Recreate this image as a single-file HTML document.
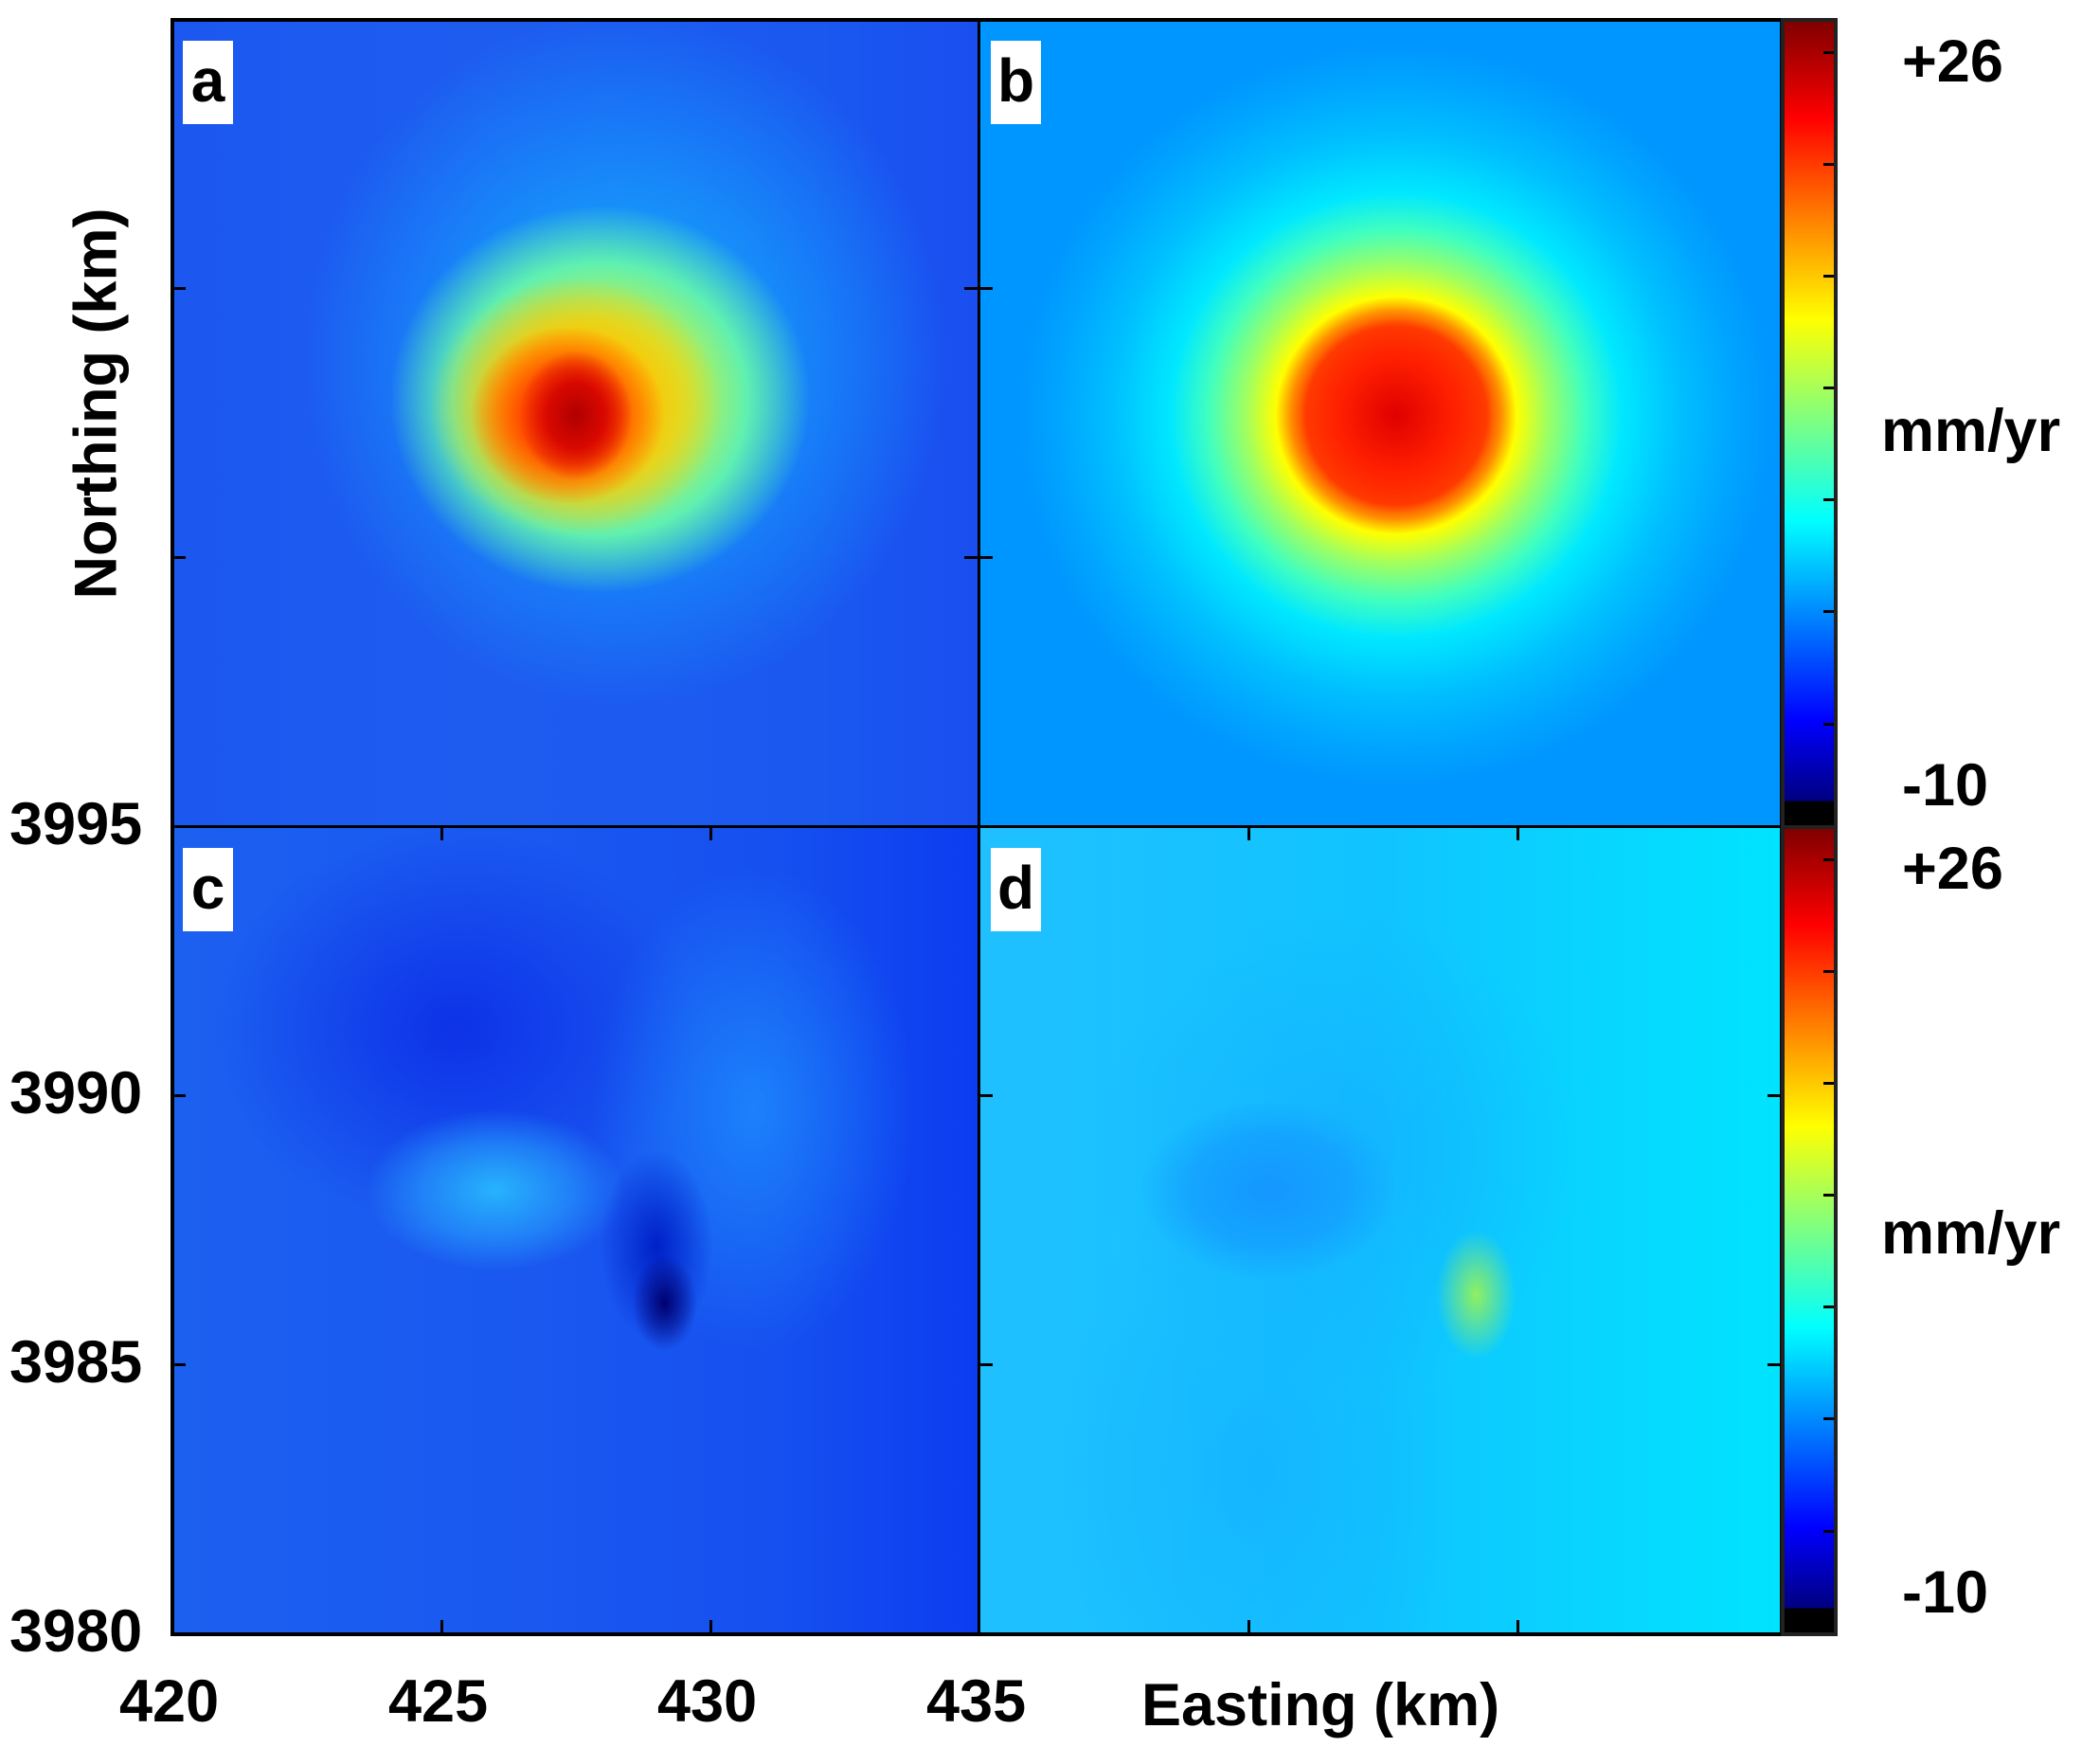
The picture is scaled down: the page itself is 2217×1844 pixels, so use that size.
<!DOCTYPE html>
<html><head><meta charset="utf-8"><style>
body{margin:0;width:2217px;height:1844px;background:#fff;position:relative;overflow:hidden;font-family:"Liberation Sans",Arial,sans-serif;font-weight:bold;color:#000}
.p{position:absolute;box-sizing:border-box}
.lab{position:absolute;background:#fff;width:53px;height:88px;font-size:64px;line-height:84px;text-align:center}
.t{position:absolute;font-size:63px;line-height:1}
.tk{position:absolute;background:#000}
</style></head><body>

<!-- panel a -->
<div class="p" style="left:182px;top:21px;width:852px;height:852px;background:
radial-gradient(ellipse 7% 8% at 50% 49%, #b00000 0%, #d80800 50%, rgba(255,60,0,0) 100%),
radial-gradient(ellipse 12% 11% at 49% 49%, #ff2800 0%, #ff5000 50%, rgba(255,150,0,0) 100%),
radial-gradient(ellipse 18% 16% at 50% 48%, #ffa000 0%, #ffc000 45%, rgba(255,220,0,0) 100%),
radial-gradient(ellipse 26% 24% at 53% 47%, #f0f020 0%, #c8f040 40%, #60f0b0 70%, rgba(0,200,255,0) 100%),
radial-gradient(ellipse 40% 43% at 56% 42%, rgba(20,200,255,.85) 0%, rgba(20,160,255,.55) 60%, rgba(20,120,255,0) 100%),
linear-gradient(90deg,#1c58f0 0%,#1e5cf0 40%,#1a58f0 80%,#1a4ef0 100%);"></div>
<!-- panel b -->
<div class="p" style="left:1034px;top:21px;width:846px;height:852px;background:
radial-gradient(ellipse 12% 12% at 52% 49%, #e00000 0%, #ff2000 60%, rgba(255,80,0,0) 100%),
radial-gradient(ellipse 47% 46% at 52% 49%, #ff3000 0%, #ff4000 24%, #ff9000 28%, #ffff00 32%, #a0ff60 40%, #40ffc0 50%, #00e8ff 60%, #00c0ff 75%, #00a4ff 90%, #0096ff 100%);"></div>
<!-- panel c -->
<div class="p" style="left:182px;top:873px;width:852px;height:851px;background:
radial-gradient(ellipse 4% 6% at 61% 59%, #000070 0%, rgba(0,20,200,0) 100%),
radial-gradient(ellipse 7% 12% at 60% 52%, #0020c8 0%, rgba(0,40,220,0) 100%),
radial-gradient(ellipse 16% 10% at 40% 45%, rgba(40,190,255,.9) 0%, rgba(40,170,255,.5) 60%, rgba(40,150,255,0) 100%),
radial-gradient(ellipse 20% 30% at 72% 35%, rgba(30,150,255,.7) 0%, rgba(30,150,255,0) 100%),
radial-gradient(ellipse 30% 25% at 35% 25%, rgba(10,40,230,.8) 0%, rgba(10,40,230,0) 100%),
linear-gradient(90deg,#1c60f0 0%,#1a58f0 45%,#1650f0 75%,#0c3cf0 100%);"></div>
<!-- panel d -->
<div class="p" style="left:1034px;top:873px;width:846px;height:851px;background:
radial-gradient(ellipse 5% 8% at 62% 58%, #90f060 0%, rgba(80,230,200,0) 100%),
radial-gradient(ellipse 16% 11% at 36% 45%, rgba(20,150,255,.95) 0%, rgba(20,150,255,.6) 60%, rgba(20,150,255,0) 100%),
radial-gradient(ellipse 30% 30% at 45% 40%, rgba(20,170,255,.6) 0%, rgba(20,170,255,0) 100%),
radial-gradient(ellipse 25% 40% at 35% 80%, rgba(20,170,255,.5) 0%, rgba(20,170,255,0) 100%),
linear-gradient(90deg,#20c0ff 0%,#10c4ff 50%,#00e4ff 100%);"></div>

<!-- frame lines -->
<div class="p" style="left:180px;top:19px;width:1703px;height:1708px;border:4px solid #000"></div>
<div class="tk" style="left:1032px;top:21px;width:3px;height:1705px"></div>
<div class="tk" style="left:182px;top:871px;width:1700px;height:3px"></div>

<!-- axis ticks -->
<div class="tk" style="left:182px;top:1155px;width:14px;height:3px"></div>
<div class="tk" style="left:182px;top:1439px;width:14px;height:3px"></div>
<div class="tk" style="left:182px;top:303px;width:14px;height:3px"></div>
<div class="tk" style="left:182px;top:587px;width:14px;height:3px"></div>
<div class="tk" style="left:1018px;top:303px;width:14px;height:3px"></div>
<div class="tk" style="left:1018px;top:587px;width:14px;height:3px"></div>
<div class="tk" style="left:1034px;top:303px;width:14px;height:3px"></div>
<div class="tk" style="left:1034px;top:587px;width:14px;height:3px"></div>
<div class="tk" style="left:1034px;top:1155px;width:14px;height:3px"></div>
<div class="tk" style="left:1034px;top:1439px;width:14px;height:3px"></div>
<div class="tk" style="left:1866px;top:1155px;width:14px;height:3px"></div>
<div class="tk" style="left:1866px;top:1439px;width:14px;height:3px"></div>
<div class="tk" style="left:465px;top:1710px;width:3px;height:14px"></div>
<div class="tk" style="left:749px;top:1710px;width:3px;height:14px"></div>
<div class="tk" style="left:1317px;top:1710px;width:3px;height:14px"></div>
<div class="tk" style="left:1601px;top:1710px;width:3px;height:14px"></div>
<div class="tk" style="left:465px;top:873px;width:3px;height:14px"></div>
<div class="tk" style="left:749px;top:873px;width:3px;height:14px"></div>
<div class="tk" style="left:1317px;top:873px;width:3px;height:14px"></div>
<div class="tk" style="left:1601px;top:873px;width:3px;height:14px"></div>

<!-- colorbars -->
<div class="p" style="left:1880px;top:19px;width:60px;height:856px;border:4px solid #222;background:linear-gradient(180deg,#800000 0%,#ff0000 12%,#ffff00 37%,#00ffff 62%,#0000ff 87%,#000080 97%,#000 97%,#000 100%)"></div>
<div class="p" style="left:1880px;top:871px;width:60px;height:856px;border:4px solid #222;background:linear-gradient(180deg,#800000 0%,#ff0000 12%,#ffff00 37%,#00ffff 62%,#0000ff 87%,#000080 97%,#000 97%,#000 100%)"></div>
<div class="tk" style="left:1925px;top:54px;width:11px;height:3px"></div>
<div class="tk" style="left:1925px;top:172px;width:11px;height:3px"></div>
<div class="tk" style="left:1925px;top:290px;width:11px;height:3px"></div>
<div class="tk" style="left:1925px;top:408px;width:11px;height:3px"></div>
<div class="tk" style="left:1925px;top:526px;width:11px;height:3px"></div>
<div class="tk" style="left:1925px;top:644px;width:11px;height:3px"></div>
<div class="tk" style="left:1925px;top:763px;width:11px;height:3px"></div>
<div class="tk" style="left:1925px;top:906px;width:11px;height:3px"></div>
<div class="tk" style="left:1925px;top:1024px;width:11px;height:3px"></div>
<div class="tk" style="left:1925px;top:1142px;width:11px;height:3px"></div>
<div class="tk" style="left:1925px;top:1260px;width:11px;height:3px"></div>
<div class="tk" style="left:1925px;top:1378px;width:11px;height:3px"></div>
<div class="tk" style="left:1925px;top:1496px;width:11px;height:3px"></div>
<div class="tk" style="left:1925px;top:1615px;width:11px;height:3px"></div>

<!-- panel labels -->
<div class="lab" style="left:193px;top:43px">a</div>
<div class="lab" style="left:1046px;top:43px">b</div>
<div class="lab" style="left:193px;top:895px">c</div>
<div class="lab" style="left:1046px;top:895px">d</div>

<!-- colorbar labels -->
<div class="t" style="left:2008px;top:34px">+26</div>
<div class="t" style="left:1986px;top:424px">mm/yr</div>
<div class="t" style="left:2008px;top:798px">-10</div>
<div class="t" style="left:2008px;top:886px">+26</div>
<div class="t" style="left:1986px;top:1271px">mm/yr</div>
<div class="t" style="left:2008px;top:1650px">-10</div>

<!-- y tick labels -->
<div class="t" style="left:10px;top:839px">3995</div>
<div class="t" style="left:10px;top:1123px">3990</div>
<div class="t" style="left:10px;top:1407px">3985</div>
<div class="t" style="left:10px;top:1691px">3980</div>
<!-- x tick labels -->
<div class="t" style="left:126px;top:1765px">420</div>
<div class="t" style="left:410px;top:1765px">425</div>
<div class="t" style="left:694px;top:1765px">430</div>
<div class="t" style="left:978px;top:1765px">435</div>
<div class="t" style="left:1205px;top:1769px">Easting (km)</div>
<div class="t" style="left:102px;top:426px;transform:translate(-50%,-50%) rotate(-90deg);white-space:nowrap">Northing (km)</div>
</body></html>
